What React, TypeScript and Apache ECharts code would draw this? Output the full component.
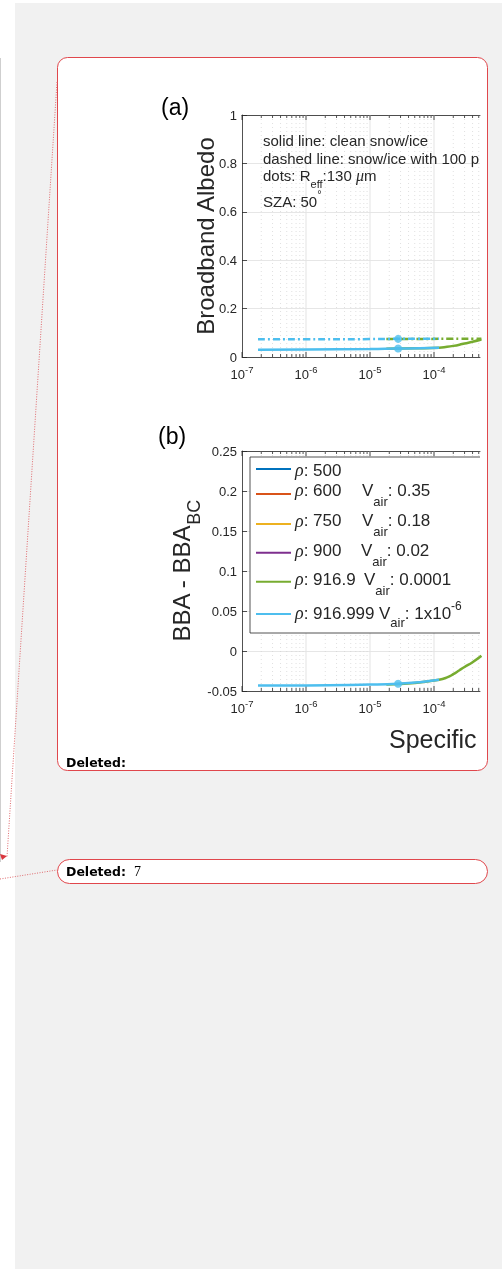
import React, { useEffect, useRef } from 'react';
import * as echarts from 'echarts';

// ---------- data ----------
const X_MIN = 1e-7;
const X_MAX = 5.23e-4;
const majorX = [1e-7, 1e-6, 1e-5, 1e-4];
const minorX = [
  2e-7, 3e-7, 4e-7, 5e-7, 6e-7, 7e-7, 8e-7, 9e-7,
  2e-6, 3e-6, 4e-6, 5e-6, 6e-6, 7e-6, 8e-6, 9e-6,
  2e-5, 3e-5, 4e-5, 5e-5, 6e-5, 7e-5, 8e-5, 9e-5,
  2e-4, 3e-4, 4e-4, 5e-4,
];

// panel (a): broadband albedo
const cyanX = [1.78e-7, 1e-6, 1e-5, 2.75e-5, 6e-5, 1.2e-4];
const aCyanCleanY = [0.030, 0.031, 0.033, 0.035, 0.036, 0.038];
const aCyanBcY = [0.073, 0.073, 0.074, 0.075, 0.075, 0.075];
const greenX = [1.8e-5, 5e-5, 1.2e-4, 1.6e-4, 2e-4, 2.5e-4, 3e-4, 4e-4, 5.5e-4];
const aGreenCleanY = [0.034, 0.036, 0.038, 0.042, 0.046, 0.051, 0.056, 0.063, 0.072];
const aGreenBcY = [0.074, 0.074, 0.075, 0.075, 0.075, 0.075, 0.075, 0.075, 0.075];
const dotX = 2.75e-5;
const aDotY = [0.035, 0.075];

// panel (b): BBA - BBA_BC
const bCyanY = [-0.043, -0.043, -0.042, -0.041, -0.039, -0.036];
const bGreenY = [-0.042, -0.040, -0.036, -0.033, -0.029, -0.024, -0.020, -0.014, -0.006];
const bDotY = [-0.041];

// legend
const legendRho = ['500', '600', '750', '900', '916.9', '916.999'];
const legendVair = ['', '0.35', '0.18', '0.02', '0.0001', '1x10'];
const legendVairSup = ['', '', '', '', '', '-6'];

// ---------- styles ----------
const AX = '#262626';
const F = 'Liberation Sans, Arial, Helvetica, sans-serif';
const SERIF = 'Liberation Serif, Times New Roman, serif';
const DV = 'DejaVu Sans, Verdana, sans-serif';
const RED = '#e0474c';
const COL = ['#0072BD', '#D95319', '#EDB120', '#7E2F8E', '#77AC30', '#4DBEEE'];
const GREEN = COL[4];
const CYAN = COL[5];
const DASH = [7, 3, 2, 3];

const zip = (xs: number[], ys: number[]) => xs.map((x, i) => [x, ys[i]]);

const logLabel = {
  margin: 7,
  formatter: (v: number) => {
    const e = Math.log10(v);
    const r = Math.round(e);
    if (Math.abs(e - r) > 1e-6) return '';
    return `{b|10}{s|${r}}`;
  },
  rich: {
    b: { fontSize: 13, fontFamily: F, color: AX, height: 20, verticalAlign: 'top' },
    s: { fontSize: 9.5, fontFamily: F, color: AX, height: 10, verticalAlign: 'top' },
  },
};

const xBottom = (gridIndex: number) => ({
  type: 'log',
  logBase: 10,
  gridIndex,
  min: X_MIN,
  max: X_MAX,
  axisLine: { show: true, onZero: false, lineStyle: { color: AX, width: 0.8 } },
  axisTick: { show: false },
  splitLine: { show: false },
  minorTick: { show: false },
  axisLabel: logLabel,
});
const xTop = (gridIndex: number) => ({
  type: 'log',
  logBase: 10,
  gridIndex,
  position: 'top',
  min: X_MIN,
  max: X_MAX,
  axisLine: { show: true, onZero: false, lineStyle: { color: AX, width: 0.8 } },
  axisTick: { show: false },
  splitLine: { show: false },
  axisLabel: { show: false },
});

const yAxisCommon = {
  type: 'value',
  axisLine: { show: true, onZero: false, lineStyle: { color: AX, width: 0.8 } },
  axisTick: { show: true, inside: true, length: 5, lineStyle: { color: AX, width: 0.8 } },
  axisLabel: { fontSize: 13, fontFamily: F, color: AX, margin: 5 },
  splitLine: { show: true, lineStyle: { color: '#e6e6e6', width: 1 } },
  nameLocation: 'middle',
  nameMoveOverlap: false,
};

const gridRender = (params: any, api: any) => {
  const cs = params.coordSys;
  const px = api.coord([api.value(0), api.value(1)])[0];
  const major = api.value(2) === 1;
  const top = cs.y;
  const bot = cs.y + cs.height;
  const tl = major ? 5 : 3;
  const children: any[] = [];
  if (px > cs.x + 0.5) {
    children.push({
      type: 'line',
      shape: { x1: px, y1: top, x2: px, y2: bot },
      style: major
        ? { stroke: '#e3e3e3', lineWidth: 1 }
        : { stroke: '#d2d2d2', lineWidth: 0.7, lineDash: [1, 3] },
    });
  }
  children.push({ type: 'line', shape: { x1: px, y1: bot, x2: px, y2: bot - tl }, style: { stroke: AX, lineWidth: 0.8 } });
  children.push({ type: 'line', shape: { x1: px, y1: top, x2: px, y2: top + tl }, style: { stroke: AX, lineWidth: 0.8 } });
  return { type: 'group', children };
};

const gridSeries = (xi: number, yi: number, yBase: number) => ({
  type: 'custom',
  xAxisIndex: xi,
  yAxisIndex: yi,
  z: 1,
  silent: true,
  renderItem: gridRender,
  encode: { x: 0, y: 1 },
  data: [...majorX.map((v) => [v, yBase, 1]), ...minorX.map((v) => [v, yBase, 0])],
});

const lineSeries = (name: string, xi: number, yi: number, xs: number[], ys: number[], color: string, dashed: boolean) => ({
  name,
  type: 'line',
  xAxisIndex: xi,
  yAxisIndex: yi,
  data: zip(xs, ys),
  symbol: 'none',
  smooth: true,
  z: 3,
  lineStyle: { color, width: 2.5, type: dashed ? DASH : 'solid' },
});

// rich token helper
const tok = (fontSize: number, height: number, family = F, extra: any = {}) => ({
  fontSize,
  fontFamily: family,
  fill: AX,
  height,
  verticalAlign: 'top',
  ...extra,
});

const buildGraphic = () => {
  const els: any[] = [];
  // page background
  els.push({ type: 'rect', z: -100, shape: { x: 0, y: 0, width: 502, height: 1269 }, style: { fill: '#ffffff' } });
  els.push({ type: 'rect', z: -99, shape: { x: 15, y: 3, width: 487, height: 1266 }, style: { fill: '#f1f1f1' } });
  els.push({ type: 'line', z: -98, shape: { x1: 0.5, y1: 58, x2: 0.5, y2: 862 }, style: { stroke: '#cfcfcf', lineWidth: 1 } });
  // balloons
  els.push({ type: 'rect', z: -97, shape: { x: 57.5, y: 57.5, width: 430, height: 713, r: 10 }, style: { fill: '#ffffff', stroke: RED, lineWidth: 1 } });
  els.push({ type: 'rect', z: -97, shape: { x: 57.5, y: 859.5, width: 430, height: 24, r: 12 }, style: { fill: '#ffffff', stroke: RED, lineWidth: 1 } });
  // dotted connector
  els.push({ type: 'polyline', z: -96, shape: { points: [[57, 82], [7, 857]] }, style: { stroke: '#e06a6e', lineWidth: 1, lineDash: [1, 1.5], fill: null } });
  els.push({ type: 'polyline', z: -96, shape: { points: [[0, 879], [57, 870]] }, style: { stroke: '#e06a6e', lineWidth: 1, lineDash: [1, 1.5], fill: null } });
  els.push({ type: 'polygon', z: -96, shape: { points: [[0, 854], [7, 856], [2, 860]] }, style: { fill: '#d9363e' } });

  // panel labels
  els.push({ type: 'text', z: 50, x: 161, y: 107, style: { text: '(a)', fontSize: 23, fontFamily: F, fill: '#000', verticalAlign: 'middle' } });
  els.push({ type: 'text', z: 50, x: 158, y: 436, style: { text: '(b)', fontSize: 23, fontFamily: F, fill: '#000', verticalAlign: 'middle' } });

  // annotations in (a)
  els.push({ type: 'text', z: 50, x: 263, y: 140, style: { text: 'solid line: clean snow/ice', fontSize: 15, fontFamily: F, fill: AX, verticalAlign: 'middle' } });
  els.push({ type: 'text', z: 50, x: 263, y: 158.3, style: { text: 'dashed line: snow/ice with 100 p', fontSize: 15, fontFamily: F, fill: AX, verticalAlign: 'middle' } });
  els.push({
    type: 'text', z: 50, x: 263, y: 175.5 - 12,
    style: {
      text: '{b|dots: R}{sub|eff}{b|:130 }{mu|μ}{b|m}',
      verticalAlign: 'top',
      rich: {
        b: tok(15, 24),
        sub: tok(11, 40),
        mu: tok(16, 24, SERIF, { fontStyle: 'italic' }),
      },
    },
  });
  els.push({
    type: 'text', z: 50, x: 263, y: 201.5 - 14,
    style: {
      text: '{b|SZA: 50}{sup|°}',
      verticalAlign: 'top',
      rich: { b: tok(15, 28), sup: tok(11, 12) },
    },
  });

  // legend in (b)
  els.push({ type: 'rect', z: 55, shape: { x: 250, y: 457, width: 230, height: 176 }, style: { fill: '#ffffff' } });
  els.push({ type: 'polyline', z: 56, shape: { points: [[480, 457], [250, 457], [250, 633], [480, 633]] }, style: { stroke: AX, lineWidth: 0.8, fill: null } });
  const lineY = [469, 494, 524, 552.7, 581.7, 614];
  const textY = [470, 490, 520.7, 550.7, 579.3, 613.3];
  const vX = [0, 362, 362, 361, 364, 379];
  const subOff = [0, 11, 11, 11, 11, 9.4];
  legendRho.forEach((rho, i) => {
    els.push({ type: 'line', z: 57, shape: { x1: 256, y1: lineY[i], x2: 291, y2: lineY[i] }, style: { stroke: COL[i], lineWidth: 2 } });
    els.push({
      type: 'text', z: 57, x: 295, y: textY[i] - 12,
      style: {
        text: `{rho|ρ}{b|: ${rho}}`,
        verticalAlign: 'top',
        rich: { rho: tok(18, 24, SERIF, { fontStyle: 'italic' }), b: tok(17, 24) },
      },
    });
    if (legendVair[i]) {
      const sup = legendVairSup[i] ? `{sup|${legendVairSup[i]}}` : '';
      els.push({
        type: 'text', z: 57, x: vX[i], y: textY[i] - 12,
        style: {
          text: `{b|V}{sub|air}{b|: ${legendVair[i]}}${sup}`,
          verticalAlign: 'top',
          rich: { b: tok(17, 24), sub: tok(13, 2 * (12 + subOff[i])), sup: tok(12, 10) },
        },
      });
    }
  });

  // x-axis title (cropped)
  els.push({ type: 'text', z: 50, x: 389, y: 738.5, style: { text: 'Specific', fontSize: 25, fontFamily: F, fill: AX, verticalAlign: 'middle' } });

  // tracked-change balloons text
  els.push({ type: 'text', z: 50, x: 66, y: 762, style: { text: 'Deleted:', fontSize: 12.5, fontWeight: 'bold', fontFamily: DV, fill: '#000', verticalAlign: 'middle' } });
  els.push({ type: 'text', z: 50, x: 66, y: 871.5, style: { text: 'Deleted:', fontSize: 12.5, fontWeight: 'bold', fontFamily: DV, fill: '#000', verticalAlign: 'middle' } });
  els.push({ type: 'text', z: 50, x: 134, y: 871.5, style: { text: '7', fontSize: 14, fontFamily: SERIF, fill: '#000', verticalAlign: 'middle' } });
  return els;
};

const buildOption = () => ({
  animation: false,
  backgroundColor: 'transparent',
  textStyle: { fontFamily: F },
  grid: [
    { left: 242, top: 115, width: 238, height: 242, containLabel: false, outerBoundsMode: 'none' },
    { left: 242, top: 451, width: 238, height: 240, containLabel: false, outerBoundsMode: 'none' },
  ],
  xAxis: [xBottom(0), xTop(0), xBottom(1), xTop(1)],
  yAxis: [
    {
      ...yAxisCommon,
      gridIndex: 0,
      min: 0,
      max: 1,
      interval: 0.2,
      name: 'Broadband Albedo',
      nameGap: 23,
      nameTextStyle: { fontSize: 24, fontFamily: F, color: AX, lineHeight: 28 },
    },
    {
      ...yAxisCommon,
      gridIndex: 1,
      min: -0.05,
      max: 0.25,
      interval: 0.05,
      name: '{b|BBA - BBA}{s|BC}',
      nameGap: 21,
      nameTextStyle: {
        rich: {
          b: { fontSize: 24, fontFamily: F, color: AX, height: 28, verticalAlign: 'top' },
          s: { fontSize: 18, fontFamily: F, color: AX, height: 54, verticalAlign: 'top' },
        },
      },
    },
  ],
  series: [
    gridSeries(0, 0, 0),
    gridSeries(2, 1, 0),
    lineSeries('ρ: 916.9 clean', 0, 0, greenX, aGreenCleanY, GREEN, false),
    lineSeries('ρ: 916.9 BC', 0, 0, greenX, aGreenBcY, GREEN, true),
    lineSeries('ρ: 916.999 clean', 0, 0, cyanX, aCyanCleanY, CYAN, false),
    lineSeries('ρ: 916.999 BC', 0, 0, cyanX, aCyanBcY, CYAN, true),
    {
      name: 'dots (a)',
      type: 'scatter',
      xAxisIndex: 0,
      yAxisIndex: 0,
      symbolSize: 8,
      z: 5,
      itemStyle: { color: CYAN },
      data: aDotY.map((y) => [dotX, y]),
    },
    lineSeries('ρ: 916.9 diff', 2, 1, greenX, bGreenY, GREEN, false),
    lineSeries('ρ: 916.999 diff', 2, 1, cyanX, bCyanY, CYAN, false),
    {
      name: 'dots (b)',
      type: 'scatter',
      xAxisIndex: 2,
      yAxisIndex: 1,
      symbolSize: 8,
      z: 5,
      itemStyle: { color: CYAN },
      data: bDotY.map((y) => [dotX, y]),
    },
  ],
  graphic: { elements: buildGraphic() },
});

export default function App() {
  const ref = useRef<HTMLDivElement>(null);
  useEffect(() => {
    if (!ref.current) return;
    const chart = echarts.init(ref.current, null, { renderer: 'svg', width: 502, height: 1269 });
    chart.setOption(buildOption() as any);
    return () => chart.dispose();
  }, []);
  return (
    <div
      ref={ref}
      style={{ position: 'fixed', left: 0, top: 0, width: 502, height: 1269 }}
    />
  );
}
